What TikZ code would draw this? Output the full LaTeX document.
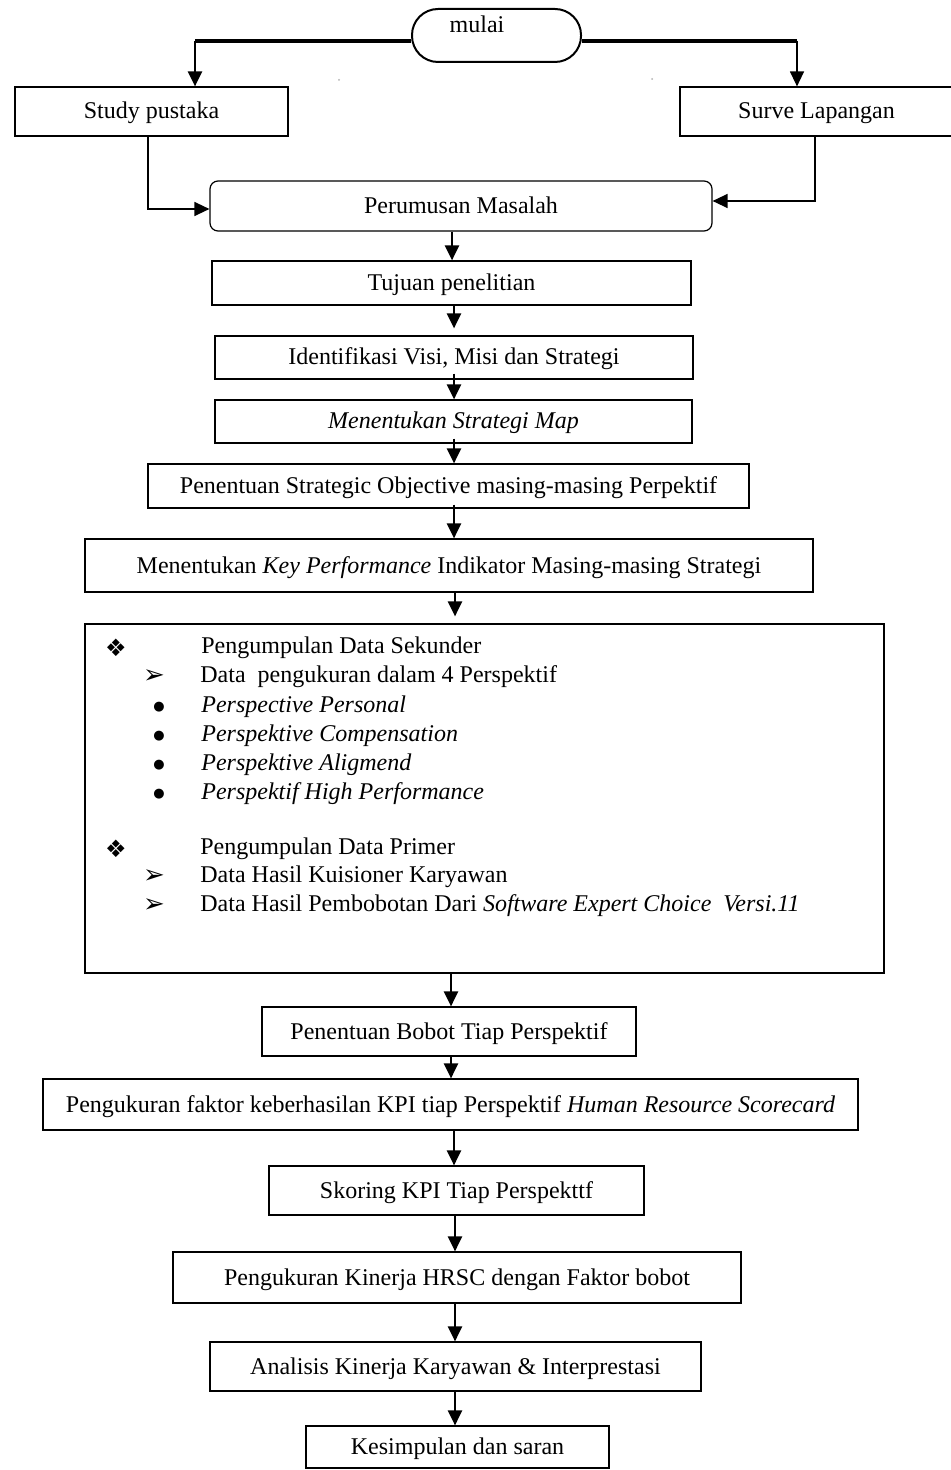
\documentclass[tikz,border=0pt]{standalone}
\usepackage{fontspec}
\setmainfont{Liberation Serif}
\newfontfamily\symfont{DejaVu Sans}
\usetikzlibrary{arrows.meta}
\tikzset{
  spanbox/.style n args={4}{minimum width={(#3-#1)*0.5pt}, minimum height={(#4-#2)*0.5pt}, at={({(#1+#3)/2},{(#2+#4)/2})}},
  txt/.style={font=\fontsize{12}{14}\selectfont, inner sep=0pt},
  box/.style={draw, line width=0.6pt, font=\fontsize{12}{14}\selectfont, inner sep=0pt, text height=9.5pt, text depth=2pt},
  arr/.style={line width=1.2pt, -{Triangle[length=7.5pt,width=7pt]}},
  thinarr/.style={line width=0.7pt, -{Triangle[length=7.5pt,width=7pt]}},
  heavy/.style={line width=1.6pt},
  bul/.style={inner sep=0pt, anchor=center},
}
\begin{document}
\begin{tikzpicture}[x=0.5pt,y=-0.5pt]
\useasboundingbox (0,0) rectangle (950,1470);
\fill[white] (0,0) rectangle (950,1470);

% start
\node[draw, line width=1pt, rounded corners=13pt, spanbox={412}{9}{581}{62}] (mulai) {};
\node[txt] (mulaitxt) at (477,24) {mulai};
\coordinate (tl) at (195,41);
\coordinate (tr) at (797,41);
\draw[heavy] (mulai.west |- tl) -- (tl);
\draw[heavy] (mulai.east |- tr) -- (tr);

% stray marks
\fill[gray!60] (339,80) circle (0.5pt);
\fill[gray!60] (652,79) circle (0.5pt);

% boxes
\node[box, spanbox={15}{87}{288}{136}] (sp) {Study pustaka};
\node[box, spanbox={680}{87}{953}{136}] (sl) {Surve Lapangan};
\node[box, rounded corners=4pt, spanbox={210}{181}{712}{231}] (pm) {Perumusan Masalah};
\node[box, spanbox={212}{261}{691}{305}] (tp) {Tujuan penelitian};
\node[box, spanbox={215}{336}{693}{379}] (iv) {Identifikasi Visi, Misi dan Strategi};
\node[box, spanbox={215}{400}{692}{443}] (sm) {\itshape Menentukan Strategi Map};
\node[box, spanbox={148}{464}{749}{508}] (so) {Penentuan Strategic Objective masing-masing Perpektif};
\node[box, spanbox={85}{539}{813}{592}] (kpi) {Menentukan \textit{Key Performance} Indikator Masing-masing Strategi};
\node[box, spanbox={85}{624}{884}{973}] (big) {};
\node[box, spanbox={262}{1007}{636}{1056}] (bb) {Penentuan Bobot Tiap Perspektif};
\node[box, spanbox={43}{1079}{858}{1130}] (pf) {Pengukuran faktor keberhasilan KPI tiap Perspektif \textit{Human Resource Scorecard}};
\node[box, spanbox={269}{1166}{644}{1215}] (sk) {Skoring KPI Tiap Perspekttf};
\node[box, spanbox={173}{1252}{741}{1303}] (hr) {Pengukuran Kinerja HRSC dengan Faktor bobot};
\node[box, spanbox={210}{1342}{701}{1391}] (an) {Analisis Kinerja Karyawan \& Interprestasi};
\node[box, spanbox={306}{1426}{609}{1468}] (ks) {Kesimpulan dan saran};

% big box content
\node[bul] (s1) at (116,648) {\symfont\fontsize{12}{12}\selectfont ❖};
\node[txt, anchor=west] (t1) at (201,648) {Pengumpulan Data Sekunder};
\node[bul] (s2) at (154,677) {\symfont\fontsize{13}{13}\selectfont ➢};
\node[txt, anchor=west] (t2) at (200,677) {Data\ \ pengukuran dalam 4 Perspektif};
\node[bul] (s3) at (159,707) {\symfont\fontsize{6.5}{7}\selectfont ●};
\node[txt, anchor=west] (t3) at (201,707) {\itshape Perspective Personal};
\node[bul] (s4) at (159,736) {\symfont\fontsize{6.5}{7}\selectfont ●};
\node[txt, anchor=west] (t4) at (201,736) {\itshape Perspektive Compensation};
\node[bul] (s5) at (159,765) {\symfont\fontsize{6.5}{7}\selectfont ●};
\node[txt, anchor=west] (t5) at (201,765) {\itshape Perspektive Aligmend};
\node[bul] (s6) at (159,794) {\symfont\fontsize{6.5}{7}\selectfont ●};
\node[txt, anchor=west] (t6) at (201,794) {\itshape Perspektif High Performance};
\node[bul] (s7) at (116,849) {\symfont\fontsize{12}{12}\selectfont ❖};
\node[txt, anchor=west] (t7) at (200,849) {Pengumpulan Data Primer};
\node[bul] (s8) at (154,877) {\symfont\fontsize{13}{13}\selectfont ➢};
\node[txt, anchor=west] (t8) at (200,877) {Data Hasil Kuisioner Karyawan};
\node[bul] (s9) at (154,906) {\symfont\fontsize{13}{13}\selectfont ➢};
\node[txt, anchor=west] (t9) at (200,906) {Data Hasil Pembobotan Dari \textit{Software Expert Choice\ \ Versi.11}};

% connectors
\draw[arr] (tl) -- (sp.north -| tl);
\draw[thinarr] (tr) -- (sl.north -| tr);
\coordinate (bl) at (148,209);
\coordinate (br) at (815,201);
\draw[thinarr] (sp.south -| bl) -- (bl) -- (pm.west |- bl);
\draw[thinarr] (sl.south -| br) -- (br) -- (pm.east |- br);

\coordinate (ax1) at (452,0);
\coordinate (ax2) at (454,0);
\coordinate (ax3) at (455,0);
\coordinate (ax4) at (451,0);
\draw[arr] (pm.south -| ax1) -- (tp.north -| ax1);
\draw[arr, shorten >=3.5pt] (tp.south -| ax2) -- (iv.north -| ax2);
\draw[arr, shorten <=-3pt] (iv.south -| ax2) -- (sm.north -| ax2);
\draw[arr, shorten <=-2.5pt] (sm.south -| ax2) -- (so.north -| ax2);
\draw[arr, shorten <=-2pt] (so.south -| ax2) -- (kpi.north -| ax2);
\draw[arr, shorten >=3.5pt] (kpi.south -| ax3) -- (big.north -| ax3);
\draw[arr] (big.south -| ax4) -- (bb.north -| ax4);
\draw[arr] (bb.south -| ax4) -- (pf.north -| ax4);
\draw[arr] (pf.south -| ax2) -- (sk.north -| ax2);
\draw[arr] (sk.south -| ax3) -- (hr.north -| ax3);
\draw[arr] (hr.south -| ax3) -- (an.north -| ax3);
\draw[arr] (an.south -| ax3) -- (ks.north -| ax3);
\end{tikzpicture}
\end{document}
